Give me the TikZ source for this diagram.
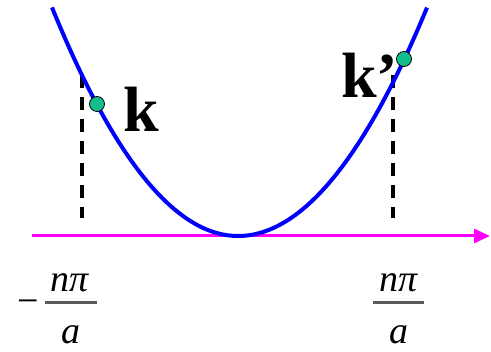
\documentclass[tikz,border=0pt]{standalone}
\usepackage{fontspec}
\setmainfont{Liberation Serif}
\usetikzlibrary{arrows.meta}
\definecolor{dotgreen}{RGB}{20,190,140}
\definecolor{axmag}{RGB}{255,0,255}
\definecolor{curveblue}{RGB}{0,0,255}
\tikzset{
  curve/.style={curveblue, line width=4pt},
  axis/.style={axmag, line width=3pt, -{Triangle[length=16pt,width=14pt]}},
  guide/.style={black, line width=3.6pt, dash pattern=on 13pt off 9pt},
  pt/.style={circle, fill=dotgreen, draw=black, line width=0.8pt, minimum size=15pt, inner sep=0pt},
  lab/.style={font=\fontsize{64}{64}\selectfont\bfseries, inner sep=0pt},
  frac/.style={font=\fontsize{38}{38}\selectfont\itshape, inner sep=0pt},
  bar/.style={black!65, line width=3pt}
}
\begin{document}
\begin{tikzpicture}[x=1pt,y=-1pt]
\useasboundingbox (0,0) rectangle (491,352);
% axis
\coordinate (ax0) at (32,236);
\coordinate (ax1) at (490,236);
\draw[axis] (ax0) -- (ax1);
% dashed guides
\coordinate (gl0) at (82,75);
\coordinate (gl1) at (82,218);
\coordinate (gr0) at (393,75);
\coordinate (gr1) at (393,218);
\draw[guide] (gl0) -- (gl1);
\draw[guide] (gr0) -- (gr1);
% curve
\draw[curve] plot[domain=52:238, samples=60, smooth] (\x, {236-0.0066*(\x-238)*(\x-238)})
  -- plot[domain=238:427, samples=60, smooth] (\x, {236-0.0064*(\x-238)*(\x-238)});
% points
\node[pt] (k) at (97,104) {};
\node[pt] (kp) at (404,59) {};
% labels
\node[lab, anchor=base west] (klab) at (123,132) {k};
\node[lab, anchor=base west] (kplab) at (341,98) {k’};
% left fraction
\node[frac, font=\fontsize{38}{38}\selectfont, anchor=base] (minus) at (28,314) {−};
\node[frac, anchor=base] (ln) at (70,292) {nπ};
\coordinate (lb0) at (45,303);
\coordinate (lb1) at (97,303);
\draw[bar] (lb0) -- (lb1);
\node[frac, anchor=base] (ld) at (71,344) {a};
% right fraction
\node[frac, anchor=base] (rn) at (399,292) {nπ};
\coordinate (rb0) at (373,303);
\coordinate (rb1) at (424,303);
\draw[bar] (rb0) -- (rb1);
\node[frac, anchor=base] (rd) at (399,344) {a};
\end{tikzpicture}
\end{document}
